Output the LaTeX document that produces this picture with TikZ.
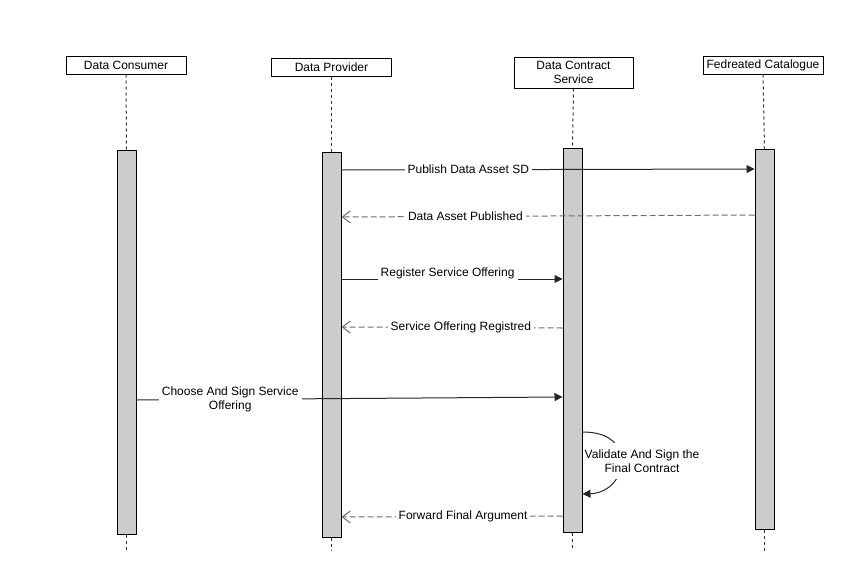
\documentclass[tikz,border=0pt]{standalone}
\usepackage{fontspec}
\setmainfont{Liberation Sans}
\usetikzlibrary{arrows.meta}
\definecolor{barfill}{HTML}{CCCCCC}
\definecolor{retgray}{HTML}{6E6E6E}
\definecolor{lifegray}{HTML}{333333}
\begin{document}
\begin{tikzpicture}[x=1pt,y=-1pt,
  txt/.style={font=\fontsize{12}{13.5}\selectfont},
  actor/.style={txt, draw=black, fill=white, line width=1pt, minimum width=120pt, minimum height=18pt, inner sep=1pt, align=center},
  bar/.style={draw=black, fill=barfill, line width=1pt, minimum width=19pt, inner sep=0pt, anchor=north},
  life/.style={draw=lifegray, line width=1pt, dash pattern=on 3pt off 3pt},
  msg/.style={draw=black!85, line width=1pt, -{Triangle[length=8pt,width=8pt]}},
  ret/.style={draw=retgray, line width=1pt, dash pattern=on 6pt off 3pt, -{Straight Barb[length=8pt,width=12pt]}},
  lbl/.style={txt, fill=white, inner xsep=3pt, inner ysep=1pt, align=center}
]
\useasboundingbox (0,0) rectangle (845,581);

% actors
\node[actor] (cons) at (126,65) {Data Consumer};
\node[actor] (prov) at (331.5,67) {Data Provider};
\node[actor, minimum width=119pt, minimum height=31pt] (dcs) at (573.5,72.5) {Data Contract\\Service};
\node[actor] (cat) at (763,65) {Fedreated Catalogue};

% lifeline ends
\coordinate (consend) at (126.5,551);
\coordinate (provend) at (331.5,551);
\coordinate (dcsend) at (572.5,551);
\coordinate (catend) at (764.5,551);

% activation bars
\node[bar, minimum height=384pt] (cbar) at (126.5,150) {};
\node[bar, minimum height=385pt] (pbar) at (331.5,152) {};
\node[bar, minimum height=384pt] (dbar) at (572.5,148) {};
\node[bar, minimum height=380pt] (fbar) at (764.5,149) {};

% lifelines
\draw[life] (cons.south) -- (cbar.north);
\draw[life] (cbar.south) -- (consend);
\draw[life] (prov.south) -- (pbar.north);
\draw[life] (pbar.south) -- (provend);
\draw[life] (dcs.south) -- (dbar.north);
\draw[life] (dbar.south) -- (dcsend);
\draw[life] (cat.south) -- (fbar.north);
\draw[life] (fbar.south) -- (catend);

% messages
\draw[msg] (pbar.east |- 0,170) -- node[lbl, pos=0.307] {Publish Data Asset SD} (fbar.west |- 0,169);
\draw[ret] (fbar.west |- 0,215) -- node[lbl, pos=0.70] {Data Asset Published} (pbar.east |- 0,217);
\draw[msg] (pbar.east |- 0,279) -- node[lbl, pos=0.48, yshift=6pt] {Register Service Offering} (dbar.west |- 0,279);
\draw[ret] (dbar.west |- 0,328) -- node[lbl, pos=0.46] {Service Offering Registred} (pbar.east |- 0,327);
\draw[msg] (cbar.east |- 0,400) -- node[lbl, pos=0.22] {Choose And Sign Service\\Offering} (dbar.west |- 0,397);
\draw[msg] (dbar.east |- 0,432) .. controls (604,432) and (618,440) .. (621,456)
  .. controls (624,476) and (610,493) .. (dbar.east |- 0,494);
\node[lbl, inner xsep=1pt, inner ysep=7pt] (selflbl) at (642,461) {Validate And Sign the\\Final Contract};
\draw[ret] (dbar.west |- 0,516) -- node[lbl, pos=0.45] {Forward Final Argument} (pbar.east |- 0,517);
\end{tikzpicture}
\end{document}
